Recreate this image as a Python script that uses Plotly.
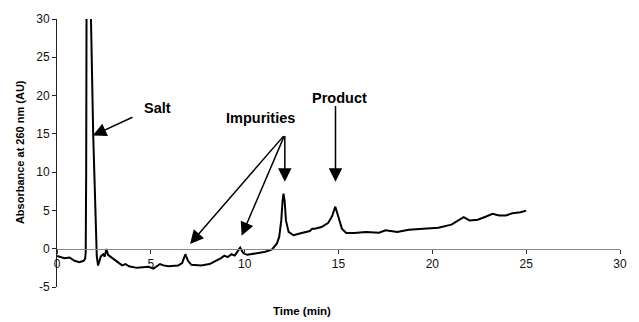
import plotly.graph_objects as go

# Chromatogram trace (time in min, absorbance in AU)
time_min = [0, 0.2, 0.4, 0.67, 0.93, 1.19, 1.42, 1.50, 1.53, 1.555, 1.57, 1.60, 1.78, 1.81,
            1.93, 2.07, 2.12, 2.19, 2.33, 2.46, 2.54, 2.63, 2.72, 2.95, 3.21, 3.47, 3.65,
            3.83, 4.26, 4.61, 4.88, 5.14, 5.49, 5.67, 5.93, 6.46, 6.67, 6.84, 6.98, 7.16,
            7.68, 8.13, 8.47, 8.74, 8.92, 9.09, 9.3, 9.47, 9.76, 9.93, 10.14, 10.67, 11.1,
            11.46, 11.72, 11.84, 11.95, 12.02, 12.07, 12.13, 12.2, 12.34, 12.6, 13.04,
            13.47, 13.6, 13.74, 14.09, 14.44, 14.65, 14.83, 15.0, 15.18, 15.41, 15.84,
            16.46, 17.16, 17.51, 18.13, 18.74, 19.62, 20.32, 21.02, 21.37, 21.67, 21.98,
            22.42, 22.77, 23.21, 23.56, 23.92, 24.26, 24.7, 25.0]
absorbance = [-0.94, -1.1, -1.23, -1.15, -1.58, -1.75, -1.58, -1.3, -0.5, 10, 35, 60, 60, 30,
              14.8, 0.7, -1.0, -2.2, -1.03, -0.72, -1.03, -0.04, -0.8, -1.23, -1.75, -2.18,
              -2.0, -2.3, -2.5, -2.45, -2.35, -2.6, -2.0, -2.18, -2.3, -2.18, -1.88, -0.72,
              -1.58, -2.1, -2.18, -2.0, -1.58, -1.23, -0.9, -1.1, -0.72, -0.9, 0.13, -0.6,
              -0.8, -0.6, -0.4, -0.1, 0.69, 1.54, 3.7, 6.26, 7.2, 6.26, 3.7, 2.19, 1.76,
              2.06, 2.31, 2.6, 2.62, 2.83, 3.34, 4.2, 5.49, 4.11, 2.62, 2.06, 2.06, 2.19,
              2.1, 2.4, 2.19, 2.49, 2.62, 2.75, 3.14, 3.69, 4.11, 3.69, 3.78, 4.11, 4.55,
              4.33, 4.33, 4.63, 4.76, 4.97]

x_ticks = [0, 5, 10, 15, 20, 25, 30]
y_ticks = [-5, 0, 5, 10, 15, 20, 25, 30]

labels = ["Salt", "Impurities", "Product"]
label_x = [5.34, 10.86, 15.03]
label_y = [18.42, 17.13, 19.7]

# arrows: (tail_x, tail_y, tip_x, tip_y)
arrow_tail_x = [4.1, 12.14, 12.14, 12.14, 14.84]
arrow_tail_y = [17.26, 14.9, 14.9, 14.9, 18.84]
arrow_tip_x = [1.91, 7.09, 9.84, 12.14, 14.84]
arrow_tip_y = [14.77, 0.62, 1.69, 8.76, 8.76]

FONT = "Liberation Sans, Arial, sans-serif"

fig = go.Figure()
fig.add_trace(go.Scatter(x=time_min, y=absorbance, mode="lines",
                         line=dict(color="black", width=2), showlegend=False,
                         hoverinfo="skip"))

annotations = []
for t, xx, yy in zip(labels, label_x, label_y):
    annotations.append(dict(x=xx, y=yy, xref="x", yref="y", text="<b>" + t + "</b>",
                            showarrow=False,
                            font=dict(family=FONT, size=14.5, color="black"),
                            xanchor="center", yanchor="middle"))
for tx, ty, hx, hy in zip(arrow_tail_x, arrow_tail_y, arrow_tip_x, arrow_tip_y):
    annotations.append(dict(x=hx, y=hy, ax=tx, ay=ty, xref="x", yref="y",
                            axref="x", ayref="y", text="", showarrow=True,
                            arrowhead=2, arrowsize=1.8, arrowwidth=1.5,
                            arrowcolor="black", standoff=0, startstandoff=0))
annotations.append(dict(x=-0.0667, y=0.505, xref="paper", yref="paper",
                        text="<b>Absorbance at 260 nm (AU)</b>", textangle=-90,
                        showarrow=False, font=dict(family=FONT, size=11, color="black"),
                        xanchor="center", yanchor="middle"))
annotations.append(dict(x=0.435, y=-0.088, xref="paper", yref="paper",
                        text="<b>Time (min)</b>", showarrow=False,
                        font=dict(family=FONT, size=11.5, color="black"),
                        xanchor="center", yanchor="middle"))

fig.update_layout(
    width=639, height=322,
    margin=dict(l=57, r=12, t=15, b=35),
    paper_bgcolor="white", plot_bgcolor="white",
    font=dict(family=FONT, size=12, color="#111"),
    annotations=annotations,
    xaxis=dict(range=[0, 30], tickvals=x_ticks, ticktext=[str(v) for v in x_ticks],
               showgrid=False, zeroline=False, showline=True, linecolor="#888",
               linewidth=1, ticks="outside", ticklen=4, tickcolor="#333",
               anchor="free", position=5 / 35,
               tickfont=dict(family=FONT, size=12, color="#111")),
    yaxis=dict(range=[-5, 30], tickvals=y_ticks, ticktext=[str(v) for v in y_ticks],
               showgrid=False, zeroline=False, showline=True, linecolor="#222",
               linewidth=1, ticks="outside", ticklen=4, tickcolor="#222",
               domain=[0, 1],
               tickfont=dict(family=FONT, size=12, color="#111")),
)

fig.write_html("out.html")
